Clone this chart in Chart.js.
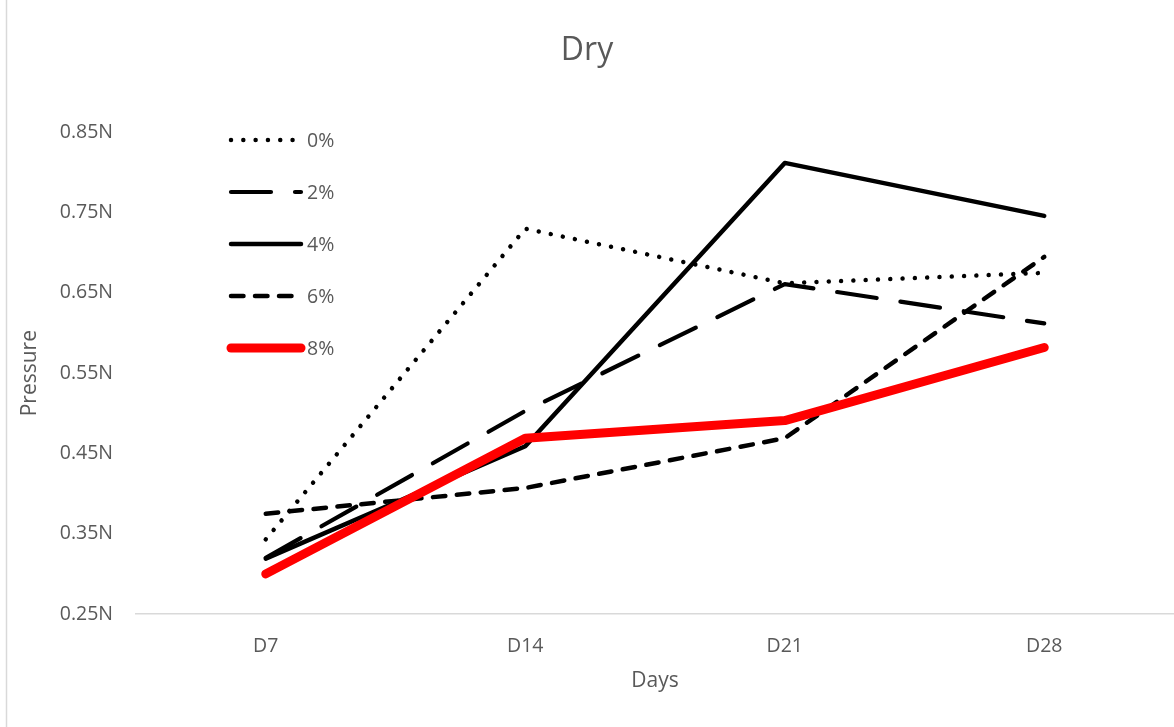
<!DOCTYPE html>
<html>
<head>
<meta charset="utf-8">
<script src="https://cdn.jsdelivr.net/npm/chart.js@4/dist/chart.umd.min.js"></script>
<style>
  html, body { margin: 0; padding: 0; background: #ffffff; }
  #wrap { position: relative; width: 1174px; height: 727px; }
</style>
</head>
<body>
<div id="wrap"><canvas id="c" width="1174" height="727"></canvas></div>
<script>
// ---- data ----
const days = ['D7', 'D14', 'D21', 'D28'];
const seriesNames = ['0%', '2%', '4%', '6%', '8%'];
const p0 = [0.343, 0.730, 0.662, 0.675];
const p2 = [0.320, 0.503, 0.661, 0.612];
const p4 = [0.319, 0.459, 0.812, 0.746];
const p6 = [0.375, 0.407, 0.469, 0.695];
const p8 = [0.300, 0.469, 0.491, 0.582];
const yTicks = [0.25, 0.35, 0.45, 0.55, 0.65, 0.75, 0.85];

const FONT = "'Open Sans', 'DejaVu Sans', sans-serif";
const GREY = '#595959';
const TICK_SIZE = 19.5;
const AXIS_TITLE_SIZE = 21;

function ds(label, data, color, width, dash, order) {
  return {
    label, data,
    borderColor: color, backgroundColor: color,
    borderWidth: width, borderDash: dash,
    borderCapStyle: 'round', borderJoinStyle: 'round',
    pointRadius: 0, pointHoverRadius: 0, tension: 0, fill: false, order
  };
}

const datasets = [
  ds(seriesNames[0], p0, '#000000', 4.5, [0.01, 12.3], 5),
  ds(seriesNames[1], p2, '#000000', 4.2, [40, 24], 4),
  ds(seriesNames[2], p4, '#000000', 4.5, [], 3),
  ds(seriesNames[3], p6, '#000000', 4.5, [12.5, 11.5], 2),
  ds(seriesNames[4], p8, '#ff0000', 9, [], 1)
];

const frame = {
  id: 'frame',
  beforeDraw(chart) {
    const ctx = chart.ctx;
    ctx.save();
    ctx.strokeStyle = '#d9d9d9';
    ctx.lineWidth = 1.5;
    ctx.beginPath();
    ctx.moveTo(6.5, 0);
    ctx.lineTo(6.5, chart.height);
    ctx.stroke();
    ctx.restore();
  }
};

const inLegend = {
  id: 'inLegend',
  afterDatasetsDraw(chart) {
    const ctx = chart.ctx;
    const x0 = 231, x1 = 301, y0 = 140, step = 52;
    chart.data.datasets.forEach((d, i) => {
      const y = y0 + i * step;
      ctx.save();
      ctx.strokeStyle = d.borderColor;
      ctx.lineWidth = d.borderWidth;
      ctx.lineCap = 'round';
      ctx.setLineDash(d.borderDash || []);
      ctx.beginPath();
      ctx.moveTo(x0, y);
      ctx.lineTo(x1, y);
      ctx.stroke();
      ctx.setLineDash([]);
      ctx.fillStyle = GREY;
      ctx.font = TICK_SIZE + "px " + FONT;
      ctx.textBaseline = 'middle';
      ctx.textAlign = 'left';
      ctx.fillText(d.label, 307, y + 1);
      ctx.restore();
    });
  }
};

new Chart(document.getElementById('c'), {
  type: 'line',
  data: { labels: days, datasets },
  plugins: [frame, inLegend],
  options: {
    responsive: false,
    animation: false,
    devicePixelRatio: 1,
    layout: { padding: { left: 0, right: 0, top: 0, bottom: 0 } },
    plugins: {
      legend: { display: false },
      tooltip: { enabled: false },
      title: {
        display: true, text: 'Dry', color: GREY,
        font: { family: FONT, size: 32, weight: 'normal' },
        padding: { top: 32, bottom: 62 }
      }
    },
    scales: {
      x: {
        offset: true,
        grid: { display: false, drawTicks: false },
        border: { display: true, color: '#d9d9d9', width: 1.5 },
        ticks: { color: GREY, font: { family: FONT, size: TICK_SIZE }, padding: 21, maxRotation: 0 },
        title: { display: true, text: 'Days', color: GREY, font: { family: FONT, size: AXIS_TITLE_SIZE }, padding: { top: 4, bottom: 33 } },
        afterFit(s) { s.height = 113; }
      },
      y: {
        min: 0.25, max: 0.85,
        grid: { display: false, drawTicks: false },
        border: { display: false },
        afterBuildTicks(s) { s.ticks = yTicks.map(v => ({ value: v })); },
        ticks: {
          color: GREY, font: { family: FONT, size: TICK_SIZE }, padding: 23,
          callback: v => Number(v).toFixed(2) + 'N'
        },
        title: { display: true, text: 'Pressure', color: GREY, font: { family: FONT, size: AXIS_TITLE_SIZE }, padding: { top: 17, bottom: 0 } },
        afterFit(s) { s.width = 136; }
      }
    }
  }
});
</script>
</body>
</html>
